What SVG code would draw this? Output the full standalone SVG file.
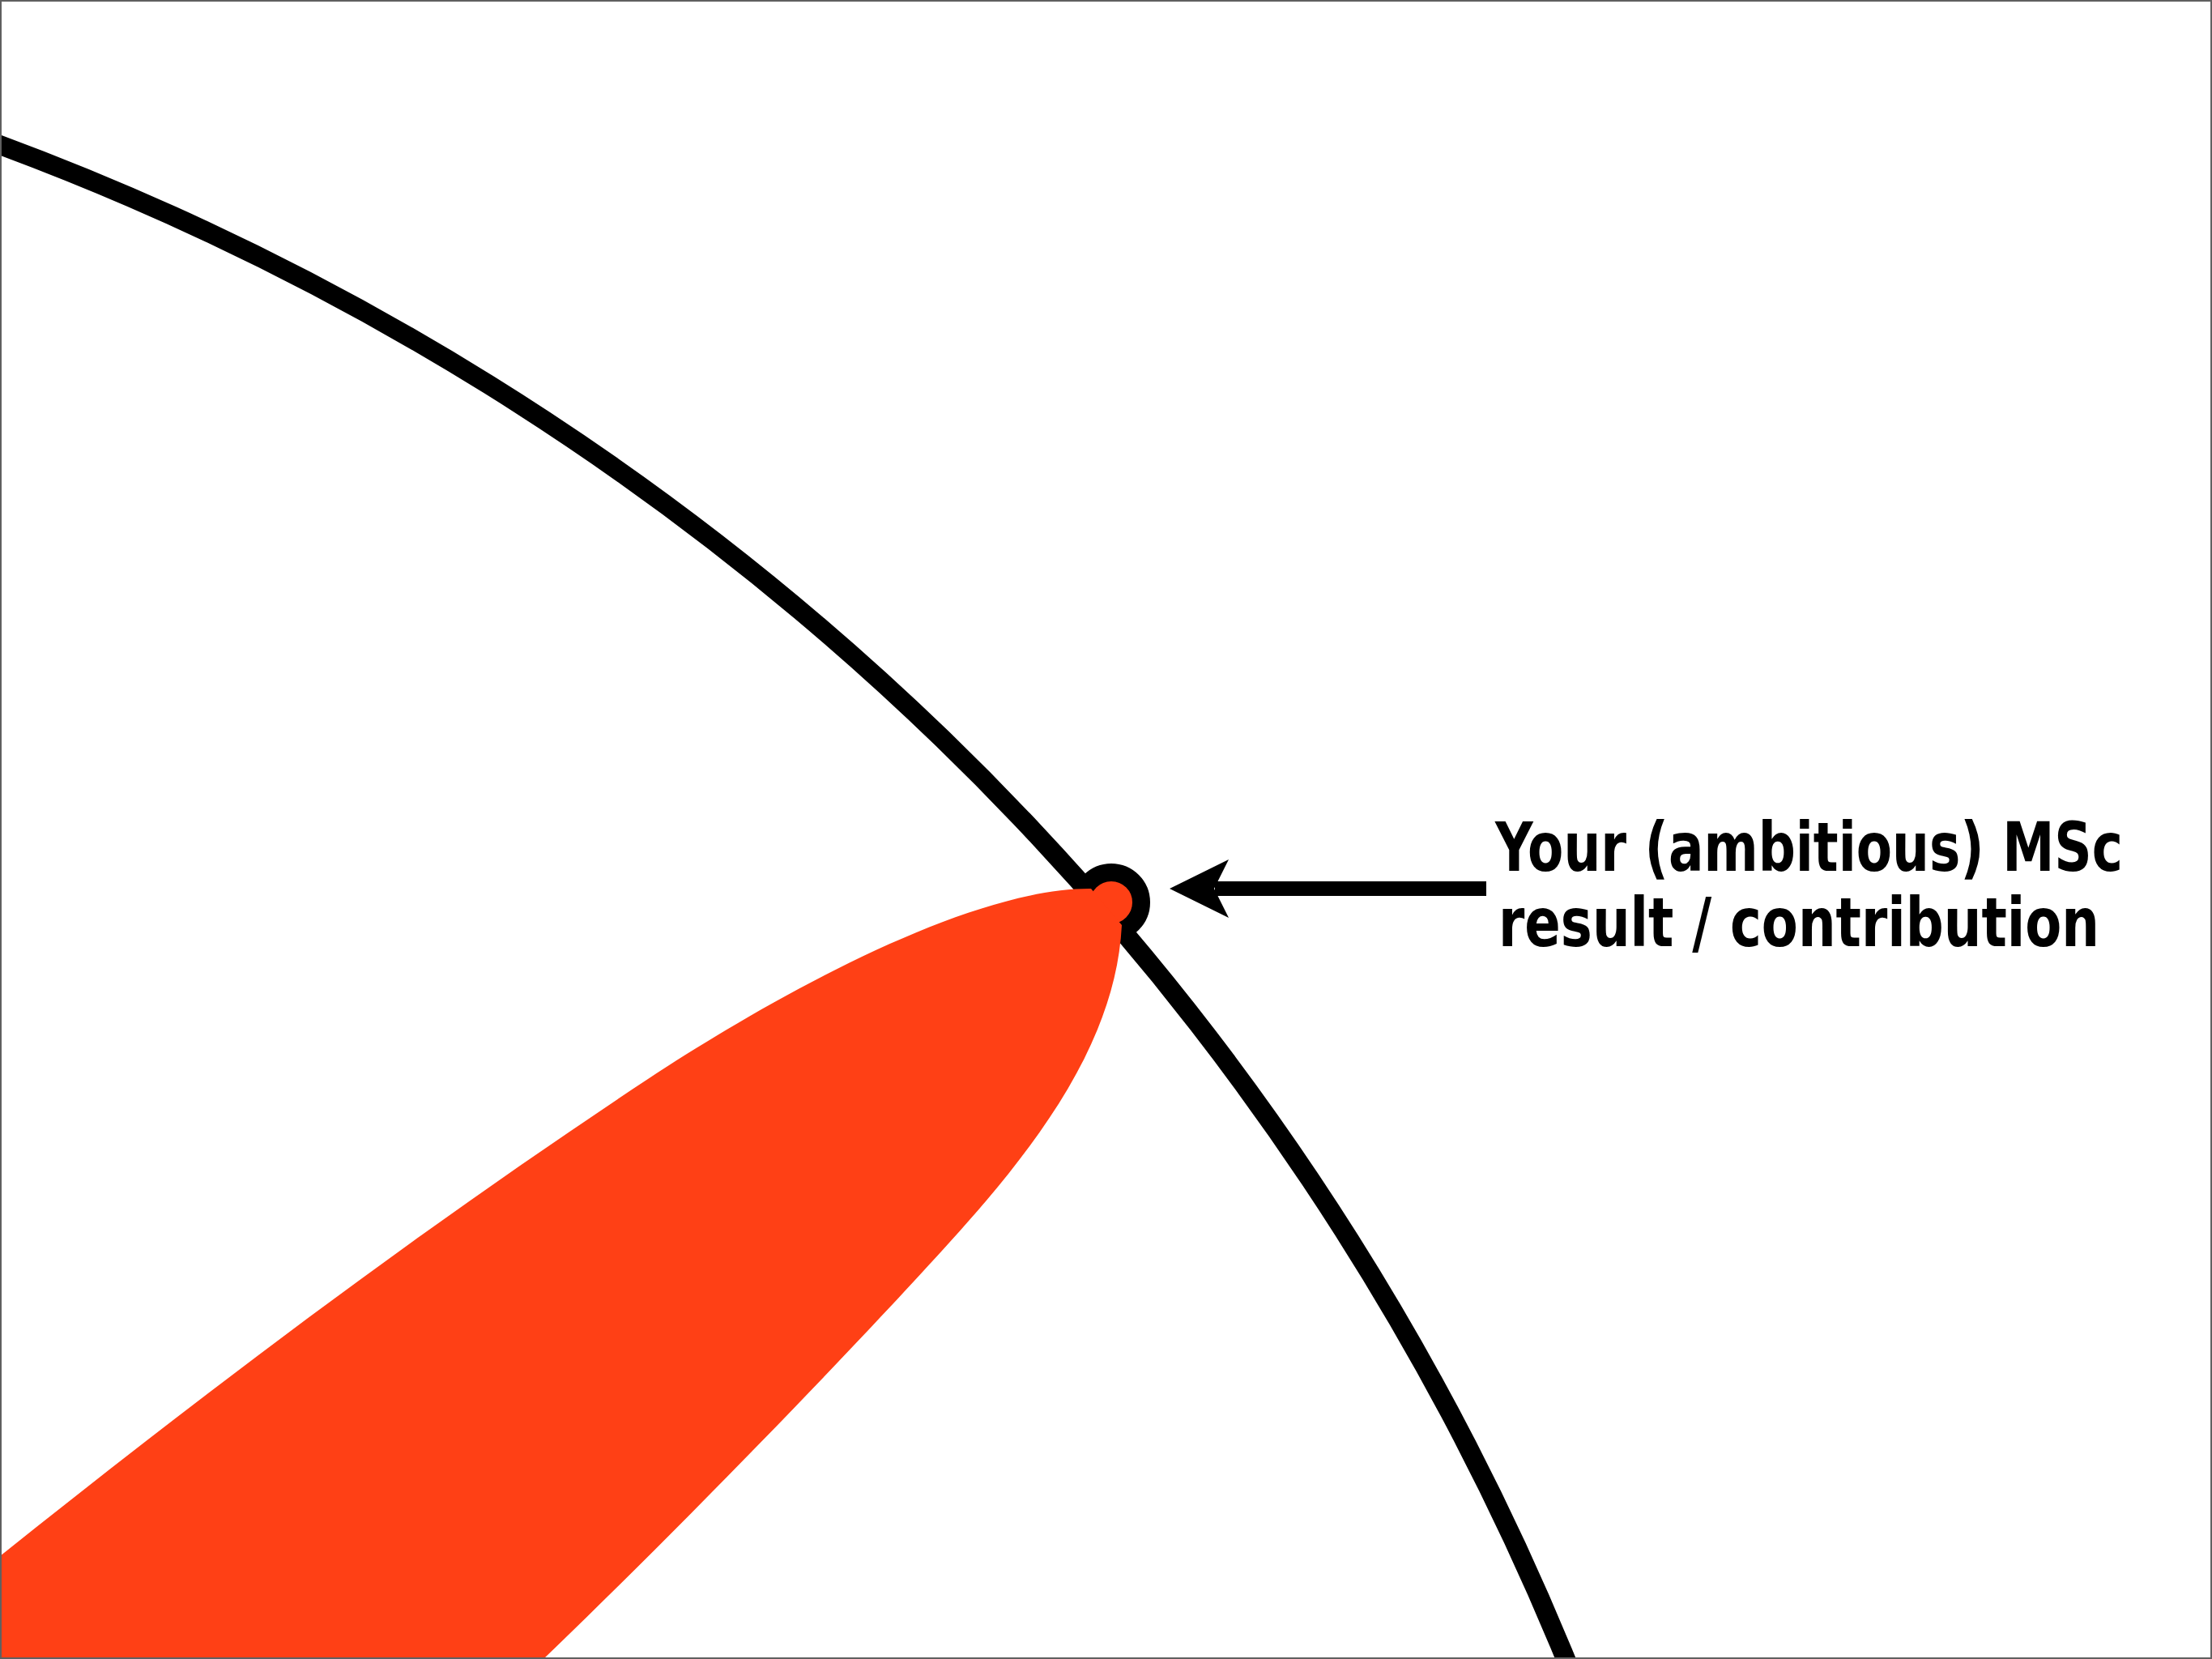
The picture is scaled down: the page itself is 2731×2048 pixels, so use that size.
<svg xmlns="http://www.w3.org/2000/svg" width="2731" height="2048" viewBox="0 0 2731 2048">
  <style>
    .bg { fill: #ffffff; }
    .frame { fill: none; stroke: #606060; stroke-width: 2; }
    .orbit { fill: none; stroke: #000000; stroke-width: 24; }
    .leaf { fill: #FF4015; stroke: none; }
    .ring { fill: #FF4015; stroke: #000000; stroke-width: 22; }
    .shaft { fill: none; stroke: #000000; stroke-width: 18; }
    .head { fill: #000000; }
    .label { font-family: "DejaVu Sans Condensed", "DejaVu Sans", "Liberation Sans", sans-serif; font-weight: bold; font-size: 72px; fill: #000000; }
  </style>
  <rect class="bg" x="0" y="0" width="2731" height="2048"/>
  <g id="boundary">
    <path class="orbit" d="M -20 171.6 A 3348 3348 0 0 1 1941.9 2070"/>
  </g>
  <g id="result-point">
    <circle class="ring" cx="1372" cy="1114" r="37"/>
  </g>
  <g id="knowledge-leaf">
    <path class="leaf" d="M -40 1953 L 0 1921 C 267 1707.4 533 1508.2 800 1332 C 950 1233 1195 1096 1347 1097 L 1385 1142 C 1379 1262 1310.5 1373 1217 1483 C 1132 1583 875 1852 671 2048 L 649 2070 L -40 2070 Z"/>
  </g>
  <g id="connectors">
    <line class="shaft" x1="1835" y1="1097" x2="1500" y2="1097"/>
    <polygon class="head" points="1444,1097 1517,1061 1499,1097 1517,1133"/>
  </g>
  <g id="label">
    <text class="label" transform="translate(1846,1075) scale(1,1.15)" x="0" y="0" textLength="775" lengthAdjust="spacingAndGlyphs">Your (ambitious) MSc</text>
    <text class="label" transform="translate(1850,1168) scale(1,1.15)" x="0" y="0" textLength="742" lengthAdjust="spacingAndGlyphs">result / contribution</text>
  </g>
  <rect class="frame" x="1" y="1" width="2729" height="2046"/>
</svg>
